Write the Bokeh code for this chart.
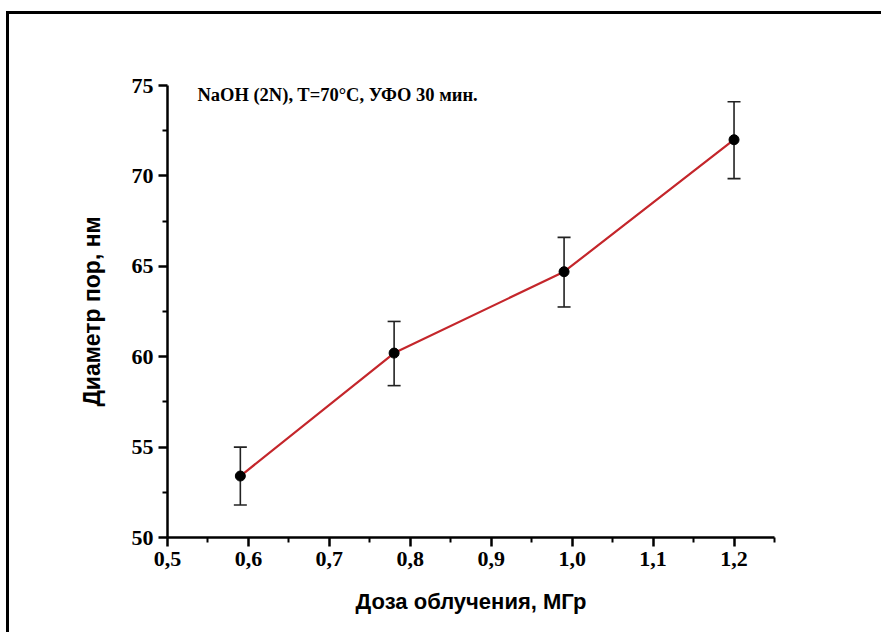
from bokeh.plotting import figure
from bokeh.models import (ColumnDataSource, Whisker, TeeHead, FixedTicker, CustomJSTickFormatter,
                          Label, Range1d)
from bokeh.embed import file_html
from bokeh.resources import INLINE

# data
dose = [0.59, 0.78, 0.99, 1.20]
diameter = [53.4, 60.2, 64.7, 72.0]
err_upper = [55.0, 61.95, 66.6, 74.1]
err_lower = [51.8, 58.4, 62.75, 69.85]
x_ticks = [0.5, 0.6, 0.7, 0.8, 0.9, 1.0, 1.1, 1.2]
x_minor = [0.55, 0.65, 0.75, 0.85, 0.95, 1.05, 1.15, 1.25]
y_ticks = [50, 55, 60, 65, 70, 75]
y_minor = [52.5, 57.5, 62.5, 67.5, 72.5]
annotation = "NaOH (2N), T=70°C, УФО 30 мин."
x_title = "Доза облучения, МГр"
y_title = "Диаметр пор, нм"

src = ColumnDataSource(dict(x=dose, y=diameter, upper=err_upper, lower=err_lower))

p = figure(width=875, height=621, output_backend="svg", toolbar_location=None,
           x_range=Range1d(0.5, 1.25), y_range=Range1d(50, 75),
           min_border_left=158, min_border_right=110, min_border_top=71, min_border_bottom=98)
p.margin = (11, 0, 0, 6)
p.styles = {"border-left": "3px solid black", "border-top": "3px solid black"}
p.outline_line_color = None
p.grid.visible = False
p.background_fill_color = "white"
p.border_fill_color = "white"

p.line("x", "y", source=src, line_color="#c4262b", line_width=2.2)
w = Whisker(base="x", upper="upper", lower="lower", source=src,
            line_color="#222222", line_width=1.6,
            upper_head=TeeHead(size=13, line_color="#222222", line_width=1.6),
            lower_head=TeeHead(size=13, line_color="#222222", line_width=1.6))
p.add_layout(w)
p.scatter("x", "y", source=src, size=10, color="black")

fmt = CustomJSTickFormatter(code="return tick.toFixed(1).replace('.', ',');")
p.xaxis.ticker = FixedTicker(ticks=x_ticks, minor_ticks=x_minor)
p.xaxis.formatter = fmt
p.yaxis.ticker = FixedTicker(ticks=y_ticks, minor_ticks=y_minor)

for ax in (p.xaxis[0], p.yaxis[0]):
    ax.axis_line_width = 2.5
    ax.axis_line_color = "black"
    ax.major_tick_line_width = 2.5
    ax.minor_tick_line_width = 2
    ax.major_tick_out = 9
    ax.major_tick_in = 0
    ax.minor_tick_out = 5
    ax.minor_tick_in = 0
    ax.major_label_text_font = "Liberation Serif"
    ax.major_label_text_font_style = "bold"
    ax.major_label_text_font_size = "22px"
    ax.major_label_text_color = "black"
    ax.axis_label_text_font = "Liberation Sans"
    ax.axis_label_text_font_style = "bold"
    ax.axis_label_text_color = "black"
    ax.major_label_standoff = 5

p.xaxis.axis_label = x_title
p.yaxis.axis_label = y_title
p.xaxis.axis_label_text_font_size = "22px"
p.yaxis.axis_label_text_font_size = "23px"
p.xaxis.axis_label_standoff = 20
p.yaxis.axis_label_standoff = 24

p.add_layout(Label(x=0.537, y=74.45, text=annotation, text_font="Liberation Serif",
                   text_font_style="bold", text_font_size="18.5px", text_baseline="middle",
                   text_color="black"))

open("out.html", "w").write(file_html(p, INLINE))
